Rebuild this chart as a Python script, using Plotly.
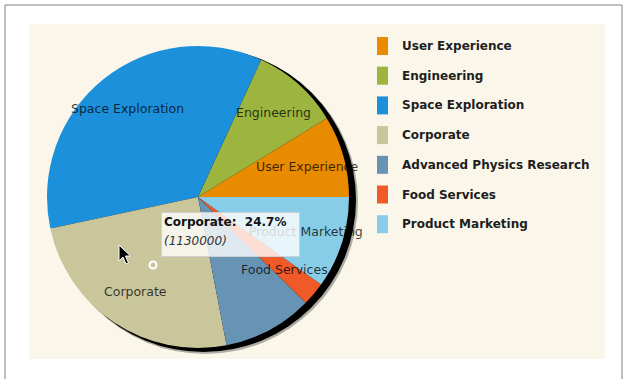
import math
import plotly.graph_objects as go

# ---- data ----
categories = ["User Experience", "Engineering", "Space Exploration", "Corporate",
              "Advanced Physics Research", "Food Services", "Product Marketing"]
values = [400000, 430000, 1610000, 1130000, 440000, 115000, 450000]
colors = ["#E88B00", "#9DB43E", "#1C90DB", "#C9C69B", "#6793B4", "#EF5A28", "#88CDE8"]
label_shown = [True, True, True, True, False, True, True]
hover_category = "Corporate"

# ---- layout geometry (pixels) ----
W, H = 627, 379
CX, CY, R = 198, 197, 151
LABEL_R = 0.75


def px(x):
    return x / W


def py(y):
    return 1 - y / H


total = sum(values)
# plotly's counterclockwise pie ends the first slice at the rotation angle;
# shift so the first slice starts at 3 o'clock
rot = 90 - 360.0 * values[0] / total

fig = go.Figure()
fig.add_trace(go.Pie(
    labels=categories, values=values, sort=False,
    direction="counterclockwise", rotation=rot,
    marker=dict(colors=colors, line=dict(width=0)),
    textinfo="none", hoverinfo="none", showlegend=False,
    domain=dict(x=[px(CX - R), px(CX + R)], y=[py(CY + R), py(CY - R)]),
))

shapes = []
annotations = []
# outer frame and panel
shapes.append(dict(type="rect", xref="paper", yref="paper", layer="below",
                   x0=px(5), x1=px(622), y0=py(395), y1=py(5),
                   line=dict(color="#808080", width=1), fillcolor="white"))
shapes.append(dict(type="rect", xref="paper", yref="paper", layer="below",
                   x0=px(29), x1=px(605), y0=py(359), y1=py(24),
                   line=dict(width=0), fillcolor="#FAF7EA"))
# drop shadow
shapes.append(dict(type="circle", xref="paper", yref="paper", layer="below",
                   x0=px(CX - R + 5), x1=px(CX + R + 9), y0=py(CY + R + 6), y1=py(CY - R + 3),
                   line=dict(width=0), fillcolor="rgba(0,0,0,0.3)"))
shapes.append(dict(type="circle", xref="paper", yref="paper", layer="below",
                   x0=px(CX - R + 4), x1=px(CX + R + 7), y0=py(CY + R + 4), y1=py(CY - R + 2),
                   line=dict(width=0), fillcolor="#000000"))

# slice labels, placed from the data angles
start = 0.0
for cat, v, show in zip(categories, values, label_shown):
    span = 360.0 * v / total
    mid = math.radians(start + span / 2)
    start += span
    if not show:
        continue
    lx = CX + LABEL_R * R * math.cos(mid)
    ly = CY - LABEL_R * R * math.sin(mid)
    annotations.append(dict(x=px(lx), y=py(ly), xref="paper", yref="paper",
                            text=cat, showarrow=False, xanchor="center", yanchor="middle",
                            font=dict(family="DejaVu Sans", size=12.5, color="rgba(0,0,0,0.75)")))

# legend (manual, tall swatches)
LEG_Y0, LEG_DY = 46, 29.7
for i, (cat, col) in enumerate(zip(categories, colors)):
    yc = LEG_Y0 + i * LEG_DY
    shapes.append(dict(type="rect", xref="paper", yref="paper",
                       x0=px(377), x1=px(388), y0=py(yc + 9), y1=py(yc - 9),
                       line=dict(width=0), fillcolor=col))
    annotations.append(dict(x=px(400), y=py(yc), xref="paper", yref="paper",
                            text="<b>" + cat + "</b>", showarrow=False,
                            xanchor="left", yanchor="middle",
                            font=dict(family="DejaVu Sans", size=12, color="#1e1e1e")))

# tooltip: box drawn as an annotation so it covers the slice label beneath it
hi = categories.index(hover_category)
pct = 100.0 * values[hi] / total
annotations.append(dict(x=px(161), y=py(212), xref="paper", yref="paper",
                        text=" ", showarrow=False, xanchor="left", yanchor="top",
                        width=137, height=43, borderpad=0, borderwidth=1,
                        bordercolor="#d0d0d0", bgcolor="rgba(255,255,255,0.8)"))
annotations.append(dict(x=px(162), y=py(222), xref="paper", yref="paper",
                        text="<b>%s:\u00a0 %.1f%%</b>" % (hover_category, pct), showarrow=False,
                        xanchor="left", yanchor="middle",
                        font=dict(family="DejaVu Sans", size=12, color="#111")))
annotations.append(dict(x=px(162), y=py(241), xref="paper", yref="paper",
                        text="<i>(%d)</i>" % values[hi], showarrow=False,
                        xanchor="left", yanchor="middle",
                        font=dict(family="DejaVu Sans", size=12, color="#333")))

# mouse cursor and hover marker
tip = (119, 245)
arrow = [(0, 0), (0, 16), (4, 12), (7, 19), (9.5, 18), (6.5, 11), (11.5, 11)]
path = "M " + " L ".join("%f,%f" % (px(tip[0] + a), py(tip[1] + b)) for a, b in arrow) + " Z"
shapes.append(dict(type="path", xref="paper", yref="paper", path=path,
                   fillcolor="black", line=dict(color="white", width=1)))
shapes.append(dict(type="circle", xref="paper", yref="paper",
                   x0=px(149.5), x1=px(156.5), y0=py(268.5), y1=py(261.5),
                   line=dict(color="white", width=2), fillcolor="rgba(0,0,0,0)"))

fig.update_layout(width=W, height=H, margin=dict(l=0, r=0, t=0, b=0),
                  paper_bgcolor="white", plot_bgcolor="white",
                  shapes=shapes, annotations=annotations, showlegend=False)
fig.write_html("out.html", config={"displayModeBar": False},
               post_script="document.body.style.margin='0';")
